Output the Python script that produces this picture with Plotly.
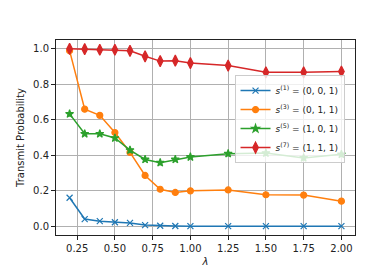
import plotly.graph_objects as go

lam = [0.2, 0.3, 0.4, 0.5, 0.6, 0.7, 0.8, 0.9, 1.0, 1.25, 1.5, 1.75, 2.0]
s1 = [0.16, 0.04, 0.028, 0.022, 0.018, 0.006, 0.002, 0.001, 0.0, 0.0, 0.0, 0.0, 0.0]
s3 = [0.99, 0.66, 0.625, 0.528, 0.416, 0.286, 0.208, 0.19, 0.199, 0.204, 0.177, 0.175, 0.141]
s5 = [0.633, 0.521, 0.521, 0.497, 0.429, 0.376, 0.358, 0.376, 0.39, 0.409, 0.412, 0.385, 0.405]
s7 = [1.0, 0.998, 0.995, 0.995, 0.989, 0.958, 0.931, 0.933, 0.92, 0.906, 0.868, 0.868, 0.872]
names = ["<i>s</i><sup>(1)</sup> = (0, 0, 1)", "<i>s</i><sup>(3)</sup> = (0, 1, 1)",
         "<i>s</i><sup>(5)</sup> = (1, 0, 1)", "<i>s</i><sup>(7)</sup> = (1, 1, 1)"]
xticks = [0.25, 0.5, 0.75, 1.0, 1.25, 1.5, 1.75, 2.0]
yticks = [0.0, 0.2, 0.4, 0.6, 0.8, 1.0]

colors = ["#1f77b4", "#ff7f0e", "#2ca02c", "#d62728"]
symbols = ["x-thin", "circle", "star", "diamond-tall"]
sizes = [6, 6, 6, 8]

fig = go.Figure()
for ys, nm, c, sym, sz in zip([s1, s3, s5, s7], names, colors, symbols, sizes):
    fig.add_trace(go.Scatter(
        x=lam, y=ys, mode="lines+markers", name=nm,
        line=dict(color=c, width=1.5),
        marker=dict(symbol=sym, size=sz, color=c, line=dict(color=c, width=1.2)),
    ))

axis_common = dict(
    showgrid=True, gridcolor="#b0b0b0", gridwidth=1,
    showline=True, linecolor="#222222", linewidth=1, mirror=True,
    ticks="outside", ticklen=4, tickcolor="#222222", zeroline=False,
    tickfont=dict(size=10, color="#222222"),
)
fig.update_xaxes(range=[0.11, 2.09], tickvals=xticks,
                 ticktext=[f"{v:.2f}" for v in xticks],
                 title=dict(text="<i>λ</i>", font=dict(size=10, color="#222222"), standoff=4),
                 **axis_common)
fig.update_yaxes(range=[-0.05, 1.05], tickvals=yticks,
                 ticktext=[f"{v:.1f}" for v in yticks],
                 title=dict(text="Transmit Probability", font=dict(size=10, color="#222222"), standoff=6),
                 **axis_common)

fig.update_layout(
    width=385, height=269,
    margin=dict(l=48, r=38, t=32, b=34),
    paper_bgcolor="white", plot_bgcolor="white",
    font=dict(family="DejaVu Sans", size=10, color="#222222"),
    legend=dict(x=0.965, y=0.82, xanchor="right", yanchor="top",
                bgcolor="rgba(255,255,255,0.8)", bordercolor="#cccccc", borderwidth=1,
                font=dict(size=9), tracegroupgap=0, itemwidth=30),
    showlegend=True,
)
fig.write_html("out.html")
